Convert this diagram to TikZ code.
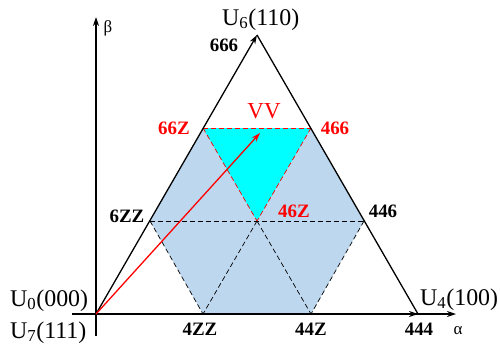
\documentclass[tikz,border=0pt]{standalone}
\usepackage{fontspec}
\setmainfont{Liberation Serif}
\usetikzlibrary{arrows.meta}
\definecolor{hexblue}{RGB}{189,215,238}
\definecolor{vvcyan}{RGB}{0,255,255}
\begin{document}
\begin{tikzpicture}[x=1bp,y=-1bp,
  edgeline/.style={line width=1.3pt,black},
  axisline/.style={line width=1.3pt,black},
  tip/.style={-{Stealth[length=9bp,width=6bp]}},
  blkdash/.style={line width=0.7pt,black,dash pattern=on 5bp off 3bp},
  reddash/.style={line width=0.7pt,red,dash pattern=on 5bp off 3bp},
  blab/.style={font=\fontsize{19}{19}\selectfont\bfseries,inner sep=0pt,anchor=base},
  rlab/.style={blab,text=red},
  ulab/.style={font=\fontsize{24}{24}\selectfont,inner sep=0pt,anchor=base west},
  glab/.style={font=\fontsize{17}{17}\selectfont,inner sep=0pt,anchor=base}]
\useasboundingbox (0,0) rectangle (500,347);
% key points
\coordinate (O) at (96,314);
\coordinate (T) at (257,35);
\coordinate (R) at (418,314);
\coordinate (p6ZZ) at (150,221);
\coordinate (p4ZZ) at (203,314);
\coordinate (p44Z) at (311,314);
\coordinate (p446) at (364,221);
\coordinate (p466) at (311,128);
\coordinate (p66Z) at (203,128);
\coordinate (C) at (257,221);
\coordinate (betaEnd) at (96,17);
\coordinate (betaStart) at (96,336);
\coordinate (alphaStart) at (72,314);
\coordinate (alphaEnd) at (456,314);
\coordinate (VVend) at (260,133);
% fills
\fill[hexblue] (p6ZZ) -- (p4ZZ) -- (p44Z) -- (p446) -- (p466) -- (p66Z) -- cycle;
\fill[vvcyan] (p66Z) -- (p466) -- (C) -- cycle;
% dashed lines
\draw[blkdash] (p6ZZ) -- (p446);
\draw[blkdash] (p6ZZ) -- (p4ZZ);
\draw[blkdash] (p446) -- (p44Z);
\draw[blkdash] (C) -- (p44Z);
\draw[blkdash] (C) -- (p4ZZ);
\draw[reddash] (p66Z) -- (p466);
\draw[reddash] (p66Z) -- (C);
\draw[reddash] (p466) -- (C);
% axes
\draw[axisline,tip] (betaStart) -- (betaEnd);
\draw[axisline,tip] (alphaStart) -- (alphaEnd);
% triangle
\draw[edgeline] (T) -- (R);
\draw[edgeline,tip] (O) -- (T);
\draw[line width=2.4pt,tip] (O) -- (R);
% VV vector
\draw[line width=1.3pt,red,tip] (O) -- (VVend);
% labels
\node[glab] (beta) at (108,32) {β};
\node[glab] (alpha) at (458,334) {α};
\node[ulab] (U6) at (222,25) {U\textsubscript{6}(110)};
\node[ulab] (U0) at (10,306) {U\textsubscript{0}(000)};
\node[ulab] (U7) at (10,338) {U\textsubscript{7}(111)};
\node[ulab] (U4) at (420,305) {U\textsubscript{4}(100)};
\node[font=\fontsize{23}{23}\selectfont,text=red,inner sep=0pt,anchor=base] (VV) at (264,118) {VV};
\node[blab] (l666) at (224,51) {666};
\node[rlab] (l66Z) at (174,134) {66Z};
\node[rlab] (l466) at (335,134) {466};
\node[blab] (l6ZZ) at (127,222) {6ZZ};
\node[rlab] (l46Z) at (294,217) {46Z};
\node[blab] (l446) at (383,217) {446};
\node[blab] (l4ZZ) at (200,335) {4ZZ};
\node[blab] (l44Z) at (311,335) {44Z};
\node[blab] (l444) at (419,335) {444};
\end{tikzpicture}
\end{document}
